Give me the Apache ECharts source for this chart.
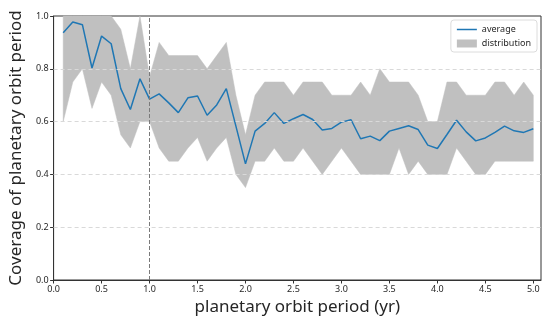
<!DOCTYPE html>
<html>
<head>
<meta charset="utf-8">
<script src="https://cdn.jsdelivr.net/npm/echarts@6/dist/echarts.min.js"></script>
<style>
  html, body { margin: 0; padding: 0; background: #fff; }
  #chart { width: 543px; height: 323px; }
</style>
</head>
<body>
<div id="chart"></div>
<script>
// Orbit periods (yr)
const periods = [
  0.1, 0.2, 0.3, 0.4, 0.5, 0.6, 0.7, 0.8, 0.9, 1.0,
  1.1, 1.2, 1.3, 1.4, 1.5, 1.6, 1.7, 1.8, 1.9, 2.0,
  2.1, 2.2, 2.3, 2.4, 2.5, 2.6, 2.7, 2.8, 2.9, 3.0,
  3.1, 3.2, 3.3, 3.4, 3.5, 3.6, 3.7, 3.8, 3.9, 4.0,
  4.1, 4.2, 4.3, 4.4, 4.5, 4.6, 4.7, 4.8, 4.9, 5.0
];

// Mean coverage per period
const average = [
  0.937, 0.977, 0.967, 0.803, 0.924, 0.895, 0.725, 0.646, 0.762, 0.685,
  0.705, 0.671, 0.634, 0.690, 0.697, 0.624, 0.663, 0.725, 0.583, 0.440,
  0.564, 0.593, 0.634, 0.593, 0.611, 0.627, 0.608, 0.568, 0.574, 0.598,
  0.607, 0.535, 0.545, 0.528, 0.564, 0.574, 0.584, 0.570, 0.511, 0.498,
  0.551, 0.605, 0.561, 0.527, 0.538, 0.559, 0.583, 0.565, 0.559, 0.573
];

// Spread of coverage: lower and upper bounds
const lower = [
  0.60, 0.75, 0.80, 0.65, 0.75, 0.70, 0.55, 0.50, 0.60, 0.60,
  0.50, 0.45, 0.45, 0.50, 0.54, 0.45, 0.50, 0.54, 0.40, 0.35,
  0.45, 0.45, 0.50, 0.45, 0.45, 0.50, 0.45, 0.40, 0.45, 0.50,
  0.45, 0.40, 0.40, 0.40, 0.40, 0.50, 0.40, 0.45, 0.40, 0.40,
  0.40, 0.50, 0.45, 0.40, 0.40, 0.45, 0.45, 0.45, 0.45, 0.45
];
const upper = [
  1.00, 1.00, 1.00, 1.00, 1.00, 1.00, 0.95, 0.80, 1.00, 0.77,
  0.90, 0.85, 0.85, 0.85, 0.85, 0.80, 0.85, 0.90, 0.70, 0.55,
  0.70, 0.75, 0.75, 0.75, 0.70, 0.75, 0.75, 0.75, 0.70, 0.70,
  0.70, 0.75, 0.70, 0.80, 0.75, 0.75, 0.75, 0.70, 0.60, 0.60,
  0.75, 0.75, 0.70, 0.70, 0.70, 0.75, 0.75, 0.70, 0.75, 0.70
];

// Axis ticks
const yTicks = [0.0, 0.2, 0.4, 0.6, 0.8, 1.0];
const xTicks = [0.0, 0.5, 1.0, 1.5, 2.0, 2.5, 3.0, 3.5, 4.0, 4.5, 5.0];
const referencePeriod = 1.0;

const FONT = '"Noto Sans", "Open Sans", sans-serif';
const TEXT = '#262626';
const BAND = '#c0c0c0';
const LINE = '#1f77b4';

const bandData = periods.map((p, i) => [p, lower[i], upper[i]]);
const avgData = periods.map((p, i) => [p, average[i]]);
const gridLines = yTicks.filter(v => v > 0 && v < 1).map(v => ({ yAxis: v }));

// Filled region between the lower and upper bounds, as one polygon
function renderBand(params, api) {
  if (params.dataIndex !== 0) return;
  const top = bandData.map(d => api.coord([d[0], d[2]]));
  const bottom = bandData.map(d => api.coord([d[0], d[1]])).reverse();
  return {
    type: 'polygon',
    shape: { points: top.concat(bottom) },
    style: { fill: BAND, stroke: BAND, lineWidth: 0.5 },
    silent: true
  };
}

const chart = echarts.init(document.getElementById('chart'), null, { renderer: 'canvas' });
chart.setOption({
  animation: false,
  backgroundColor: '#fff',
  textStyle: { fontFamily: FONT },
  grid: {
    left: 52, right: 2, top: 16, bottom: 43,
    show: true, borderColor: '#333', borderWidth: 1, backgroundColor: 'transparent'
  },
  legend: {
    orient: 'vertical',
    right: 6, top: 20,
    itemWidth: 20, itemHeight: 8, itemGap: 5,
    padding: [5, 6, 4, 6],
    borderColor: '#dcdcdc', borderWidth: 1, borderRadius: 3,
    backgroundColor: 'rgba(255,255,255,0.8)',
    textStyle: { fontSize: 9, color: TEXT, fontFamily: FONT },
    data: [
      { name: 'average', icon: 'path://M0,0 L40,0 L40,3 L0,3 Z', itemStyle: { color: LINE } },
      { name: 'distribution', icon: 'rect', itemStyle: { color: BAND } }
    ]
  },
  xAxis: {
    type: 'value',
    min: 0, max: 5.08, interval: 0.5,
    name: 'planetary orbit period (yr)',
    nameLocation: 'middle', nameGap: 16,
    nameTextStyle: { fontSize: 17, color: TEXT, fontFamily: FONT },
    axisLine: { show: true, lineStyle: { color: '#333', width: 1 } },
    axisTick: { show: true, length: 3.5, lineStyle: { color: '#333' }, customValues: xTicks },
    axisLabel: { fontSize: 9, color: TEXT, margin: 5, fontFamily: FONT,
      customValues: xTicks, formatter: v => v.toFixed(1) },
    splitLine: { show: false }
  },
  yAxis: {
    type: 'value',
    min: 0, max: 1, interval: 0.2,
    name: 'Coverage of planetary orbit period',
    nameLocation: 'middle', nameGap: 27,
    nameTextStyle: { fontSize: 17, color: TEXT, fontFamily: FONT },
    axisLine: { show: true, lineStyle: { color: '#333', width: 1 } },
    axisTick: { show: true, length: 3.5, lineStyle: { color: '#333' } },
    axisLabel: { fontSize: 9, color: TEXT, margin: 5, fontFamily: FONT,
      formatter: v => v.toFixed(1) },
    splitLine: { show: false }
  },
  series: [
    {
      name: 'distribution',
      type: 'custom',
      renderItem: renderBand,
      data: bandData,
      encode: { x: 0, y: [1, 2] },
      itemStyle: { color: BAND },
      silent: true,
      z: 2
    },
    {
      name: 'guides',
      type: 'line',
      data: avgData,
      symbol: 'none',
      lineStyle: { opacity: 0 },
      silent: true,
      z: 3,
      markLine: {
        silent: true,
        symbol: ['none', 'none'],
        label: { show: false },
        animation: false,
        data: [
          ...gridLines.map(d => ({ ...d, lineStyle: { type: [4, 3], color: '#d9d9d9', width: 1 } })),
          { xAxis: referencePeriod, lineStyle: { type: [4, 2], color: '#7a7a7a', width: 1 } }
        ]
      }
    },
    {
      name: 'average',
      type: 'line',
      data: avgData,
      symbol: 'none',
      lineStyle: { color: LINE, width: 1.5 },
      itemStyle: { color: LINE },
      z: 4
    }
  ]
});
</script>
</body>
</html>
